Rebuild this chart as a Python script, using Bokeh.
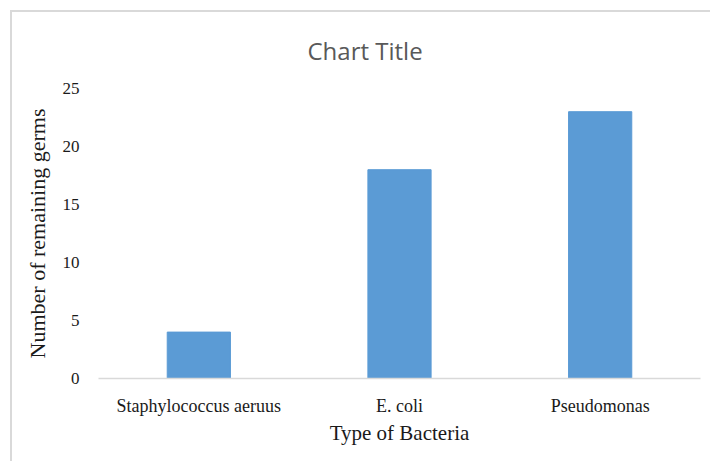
from bokeh.plotting import figure
from bokeh.models import Range1d, FactorRange, FixedTicker, ColumnDataSource
from bokeh.embed import file_html
from bokeh.resources import INLINE

# Data
bacteria = ["Staphylococcus aeruus", "E. coli", "Pseudomonas"]
remaining_germs = [4, 18, 23]
y_ticks = [0, 5, 10, 15, 20, 25]

source = ColumnDataSource(dict(bacteria=bacteria, germs=remaining_germs))

p = figure(
    x_range=FactorRange(*bacteria),
    y_range=Range1d(0, 25),
    width=700, height=451,
    output_backend="svg", toolbar_location=None,
    min_border_left=86, min_border_right=12,
    min_border_top=76, min_border_bottom=85,
    background_fill_color="white", border_fill_color="white",
    title="Chart Title",
)
p.margin = (10, 0, 0, 10)
p.styles = {"border-top": "2px solid #d9d9d9", "border-left": "2px solid #d9d9d9"}
p.outline_line_color = None
p.grid.visible = False

# chart title, sitting over the middle of the whole chart area
p.title.align = "left"
p.title.offset = 209
p.title.standoff = 40
p.title.vertical_align = "top"
p.title.text_font = "Open Sans"
p.title.text_font_style = "normal"
p.title.text_font_size = "24px"
p.title.text_color = "#595959"

p.vbar(x="bacteria", top="germs", width=0.315, source=source,
       fill_color="#5b9bd5", line_color="#5b9bd5")

serif = "Liberation Serif"

# y axis
yax = p.yaxis[0]
yax.ticker = FixedTicker(ticks=y_ticks)
yax.axis_line_color = None
yax.major_tick_line_color = None
yax.minor_tick_line_color = None
yax.major_label_text_font = serif
yax.major_label_text_font_style = "normal"
yax.major_label_text_font_size = "17px"
yax.major_label_text_color = "#1a1a1a"
yax.major_label_standoff = 13
yax.axis_label = "Number of remaining germs"
yax.axis_label_text_font = serif
yax.axis_label_text_font_style = "normal"
yax.axis_label_text_font_size = "22px"
yax.axis_label_text_color = "#1a1a1a"
yax.axis_label_standoff = 10

# x axis
xax = p.xaxis[0]
xax.axis_line_color = "#d9d9d9"
xax.axis_line_width = 1.5
xax.major_tick_line_color = None
xax.minor_tick_line_color = None
xax.major_label_text_font = serif
xax.major_label_text_font_style = "normal"
xax.major_label_text_font_size = "18px"
xax.major_label_text_color = "#1a1a1a"
xax.major_label_standoff = 11
xax.axis_label = "Type of Bacteria"
xax.axis_label_text_font = serif
xax.axis_label_text_font_style = "normal"
xax.axis_label_text_font_size = "21px"
xax.axis_label_text_color = "#1a1a1a"
xax.axis_label_standoff = 2

open("out.html", "w").write(file_html(p, INLINE))
